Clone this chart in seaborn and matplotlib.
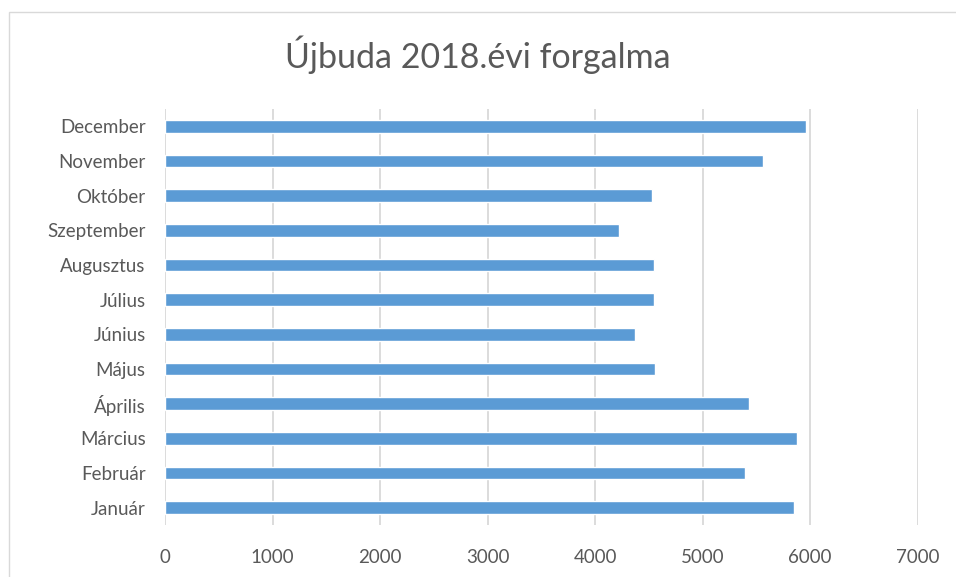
import matplotlib
matplotlib.use("Agg")
import matplotlib.pyplot as plt
import matplotlib.patches as mpatches
import seaborn as sns
import pandas as pd

months = ['Január', 'Február', 'Március', 'Április', 'Május', 'Június',
          'Július', 'Augusztus', 'Szeptember', 'Október', 'November', 'December']
forgalom = [5845, 5395, 5880, 5435, 4555, 4370, 4545, 4550, 4220, 4530, 5565, 5965]
x_ticks = [0, 1000, 2000, 3000, 4000, 5000, 6000, 7000]

df = pd.DataFrame({'honap': months, 'forgalom': forgalom})

sns.set_style('white')
plt.rcParams['font.family'] = ['Lato', 'DejaVu Sans']

fig = plt.figure(figsize=(9.56, 5.77), dpi=100)
ax = fig.add_axes([0.1726, 0.0901, 0.7874, 0.7210])

sns.barplot(data=df, x='forgalom', y='honap', order=months[::-1],
            color='#5B9BD5', saturation=1, width=0.37, ax=ax)

ax.set_xlim(0, 7000)
ax.set_xticks(x_ticks)
ax.set_xticklabels([str(t) for t in x_ticks])
ax.set_xlabel('')
ax.set_ylabel('')
ax.grid(axis='x', color='#D9D9D9', linewidth=1.3)
ax.set_axisbelow(True)
for s in ax.spines.values():
    s.set_visible(False)
ax.tick_params(axis='both', length=0, labelsize=13.5, labelcolor='#595959')
ax.tick_params(axis='x', pad=17)
ax.tick_params(axis='y', pad=14)

fig.text(0.5, 0.905, 'Újbuda 2018.évi forgalma', ha='center', va='center',
         fontsize=24.5, color='#595959')

fig.patches.append(mpatches.Rectangle((0.009, -0.01), 1.0, 0.99, transform=fig.transFigure,
                                      fill=False, edgecolor='#D9D9D9', linewidth=1))

fig.savefig('out.png', dpi=100)
plt.close()
